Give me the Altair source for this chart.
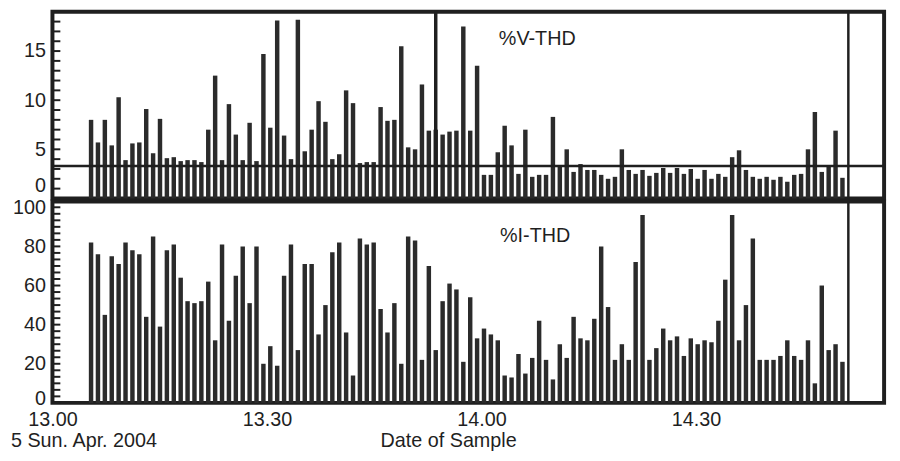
import altair as alt
import pandas as pd

# ---- data ----
# sampling grid: minutes after 13:00 of the first sample, and sample spacing (minutes)
start_min = 5.4
interval_min = 0.964

v_thd = [8.0, 5.7, 8.0, 5.4, 10.3, 3.9, 5.6, 5.7, 9.1, 4.6, 8.1, 4.1, 4.2, 3.8, 3.9, 3.9, 3.7, 7.0, 12.5, 3.9, 9.6, 6.5,
         3.9, 7.7, 3.8, 14.7, 7.2, 18.1, 6.4, 4.0, 18.2, 4.8, 7.0, 9.9, 7.8, 4.0, 4.5, 11.0, 9.7, 3.6, 3.7, 3.7, 9.3, 7.9,
         8.0, 15.5, 5.2, 5.0, 11.6, 6.9, 7.0, 6.5, 6.8, 6.9, 17.5, 6.9, 13.5, 2.4, 2.4, 4.7, 7.4, 5.4, 2.5, 7.0, 2.2, 2.4,
         2.4, 8.3, 3.3, 5.0, 2.7, 3.5, 2.9, 2.9, 2.4, 2.0, 2.2, 5.0, 2.9, 2.5, 2.9, 2.3, 2.6, 3.1, 2.6, 3.1, 2.5, 3.0, 2.0,
         2.9, 2.0, 2.5, 2.2, 4.2, 4.9, 2.9, 2.2, 2.0, 2.2, 1.9, 2.2, 1.7, 2.4, 2.5, 5.0, 8.8, 2.7, 3.4, 6.9, 2.1]

i_thd = [82, 76, 45, 75, 71, 82, 78, 76, 44, 85, 39, 78, 81, 64, 52, 51, 52, 62, 32, 81, 42, 65,
         80, 51, 80, 20, 29, 19, 65, 81, 27, 71, 71, 35, 50, 77, 82, 36, 14, 84, 81, 82, 48, 36,
         51, 20, 85, 83, 22, 70, 27, 52, 61, 58, 21, 54, 33, 38, 35, 32, 14, 13, 25, 15, 23, 42,
         22, 12, 30, 23, 44, 33, 32, 43, 80, 49, 22, 30, 22, 72, 96, 22, 28, 38, 32, 34, 24, 33, 30,
         32, 31, 42, 63, 96, 32, 50, 84, 22, 22, 22, 24, 32, 24, 22, 32, 10, 60, 27, 30, 21]

v_limit = 3.3            # horizontal reference line in the %V-THD panel
cursor_top = [53.6]      # cursor line (minutes) in the top panel only
cursor_end = [111.3]     # cursor line (minutes) through both panels

tick_minutes = [0, 30, 60, 90]
tick_labels = ["13.00", "13.30", "14.00", "14.30"]
v_ticks = [0, 5, 10, 15]
i_ticks = [0, 20, 40, 60, 80, 100]
v_minor = list(range(0, 19))
i_minor = [k * 10 / 3 for k in range(0, 31)]

FONT = "Liberation Sans"
BAR = "#2b2b2b"
INK = "#1f1f1f"

n = len(v_thd)
times = [start_min + k * interval_min for k in range(n)]
df = pd.DataFrame({"t": times, "v": v_thd, "i": i_thd})

xscale = alt.Scale(domain=[0, 116.3], nice=False, zero=False, padding=0)
vscale = alt.Scale(domain=[0, 19], nice=False)
iscale = alt.Scale(domain=[0, 103], nice=False)

label_expr = " : ".join(
    f"datum.value == {m} ? '{lab}'" for m, lab in zip(tick_minutes, tick_labels)
) + " : ''"

yaxis_common = dict(ticks=False, domain=False, grid=False, labelPadding=7,
                    labelFontSize=20, labelFont=FONT, labelColor=INK, labelFlush=True)

# ---------- top panel: %V-THD ----------
bars_top = alt.Chart(df).mark_bar(size=4.5, color=BAR, orient="vertical").encode(
    x=alt.X("t:Q", scale=xscale, axis=None),
    y=alt.Y("v:Q", scale=vscale, title="",
            axis=alt.Axis(values=v_ticks, labelFlushOffset=-3, **yaxis_common)),
)
limit_top = alt.Chart(pd.DataFrame({"v": [v_limit]})).mark_rule(color=INK, strokeWidth=2.5).encode(
    y=alt.Y("v:Q", scale=vscale)
)
cur_top = alt.Chart(pd.DataFrame({"t": cursor_top})).mark_rule(color=INK, strokeWidth=3.5).encode(
    x=alt.X("t:Q", scale=xscale)
)
cur_end_top = alt.Chart(pd.DataFrame({"t": cursor_end})).mark_rule(color=INK, strokeWidth=2.5).encode(
    x=alt.X("t:Q", scale=xscale)
)
minor_top = alt.Chart(pd.DataFrame({"m": v_minor})).mark_rule(color=INK, strokeWidth=2).encode(
    x=alt.value(0), x2=alt.value(8), y=alt.Y("m:Q", scale=vscale)
)
label_top = alt.Chart(pd.DataFrame({"s": ["%V-THD"]})).mark_text(
    font=FONT, fontSize=20, color=INK
).encode(x=alt.datum(67.8), y=alt.datum(16.2), text="s:N")

top = alt.layer(bars_top, limit_top, cur_top, cur_end_top, minor_top, label_top).properties(
    width=842, height=189
)

# ---------- bottom panel: %I-THD ----------
bars_bot = alt.Chart(df).mark_bar(size=4.5, color=BAR, orient="vertical").encode(
    x=alt.X("t:Q", scale=xscale, title="",
            axis=alt.Axis(values=tick_minutes, labelExpr=label_expr, ticks=False, domain=False,
                          grid=False, labelPadding=7, labelFontSize=20, labelFont=FONT,
                          labelColor=INK, labelFlush=False)),
    y=alt.Y("i:Q", scale=iscale, title="",
            axis=alt.Axis(values=i_ticks, labelFlushOffset=6, **yaxis_common)),
)
cur_end_bot = alt.Chart(pd.DataFrame({"t": cursor_end})).mark_rule(color=INK, strokeWidth=2.5).encode(
    x=alt.X("t:Q", scale=xscale)
)
minor_bot = alt.Chart(pd.DataFrame({"m": i_minor})).mark_rule(color=INK, strokeWidth=2).encode(
    x=alt.value(0), x2=alt.value(8), y=alt.Y("m:Q", scale=iscale)
)
label_bot = alt.Chart(pd.DataFrame({"s": ["%I-THD"]})).mark_text(
    font=FONT, fontSize=20, color=INK
).encode(x=alt.datum(67.5), y=alt.datum(85.5), text="s:N")

notes = pd.DataFrame({"s": ["5 Sun. Apr. 2004"], "t": [-5.8], "y": [-19.5]})
date_txt = alt.Chart(notes).mark_text(font=FONT, fontSize=20, color=INK, align="left").encode(
    x=alt.X("t:Q", scale=xscale), y=alt.Y("y:Q", scale=iscale), text="s:N"
)
xtitle = pd.DataFrame({"s": ["Date of Sample"], "t": [55.4], "y": [-19.5]})
title_txt = alt.Chart(xtitle).mark_text(font=FONT, fontSize=20, color=INK, align="center").encode(
    x=alt.X("t:Q", scale=xscale), y=alt.Y("y:Q", scale=iscale), text="s:N"
)

bottom = alt.layer(bars_bot, cur_end_bot, minor_bot, label_bot, date_txt, title_txt).properties(
    width=842, height=204
)

chart = alt.vconcat(top, bottom, spacing=3, bounds="flush").properties(
    padding={"left": 1, "top": -3, "right": 4, "bottom": 4},
    background="white",
).configure_view(stroke=INK, strokeWidth=4)

chart.save("out.html", embed_options={"renderer": "svg", "actions": False})
